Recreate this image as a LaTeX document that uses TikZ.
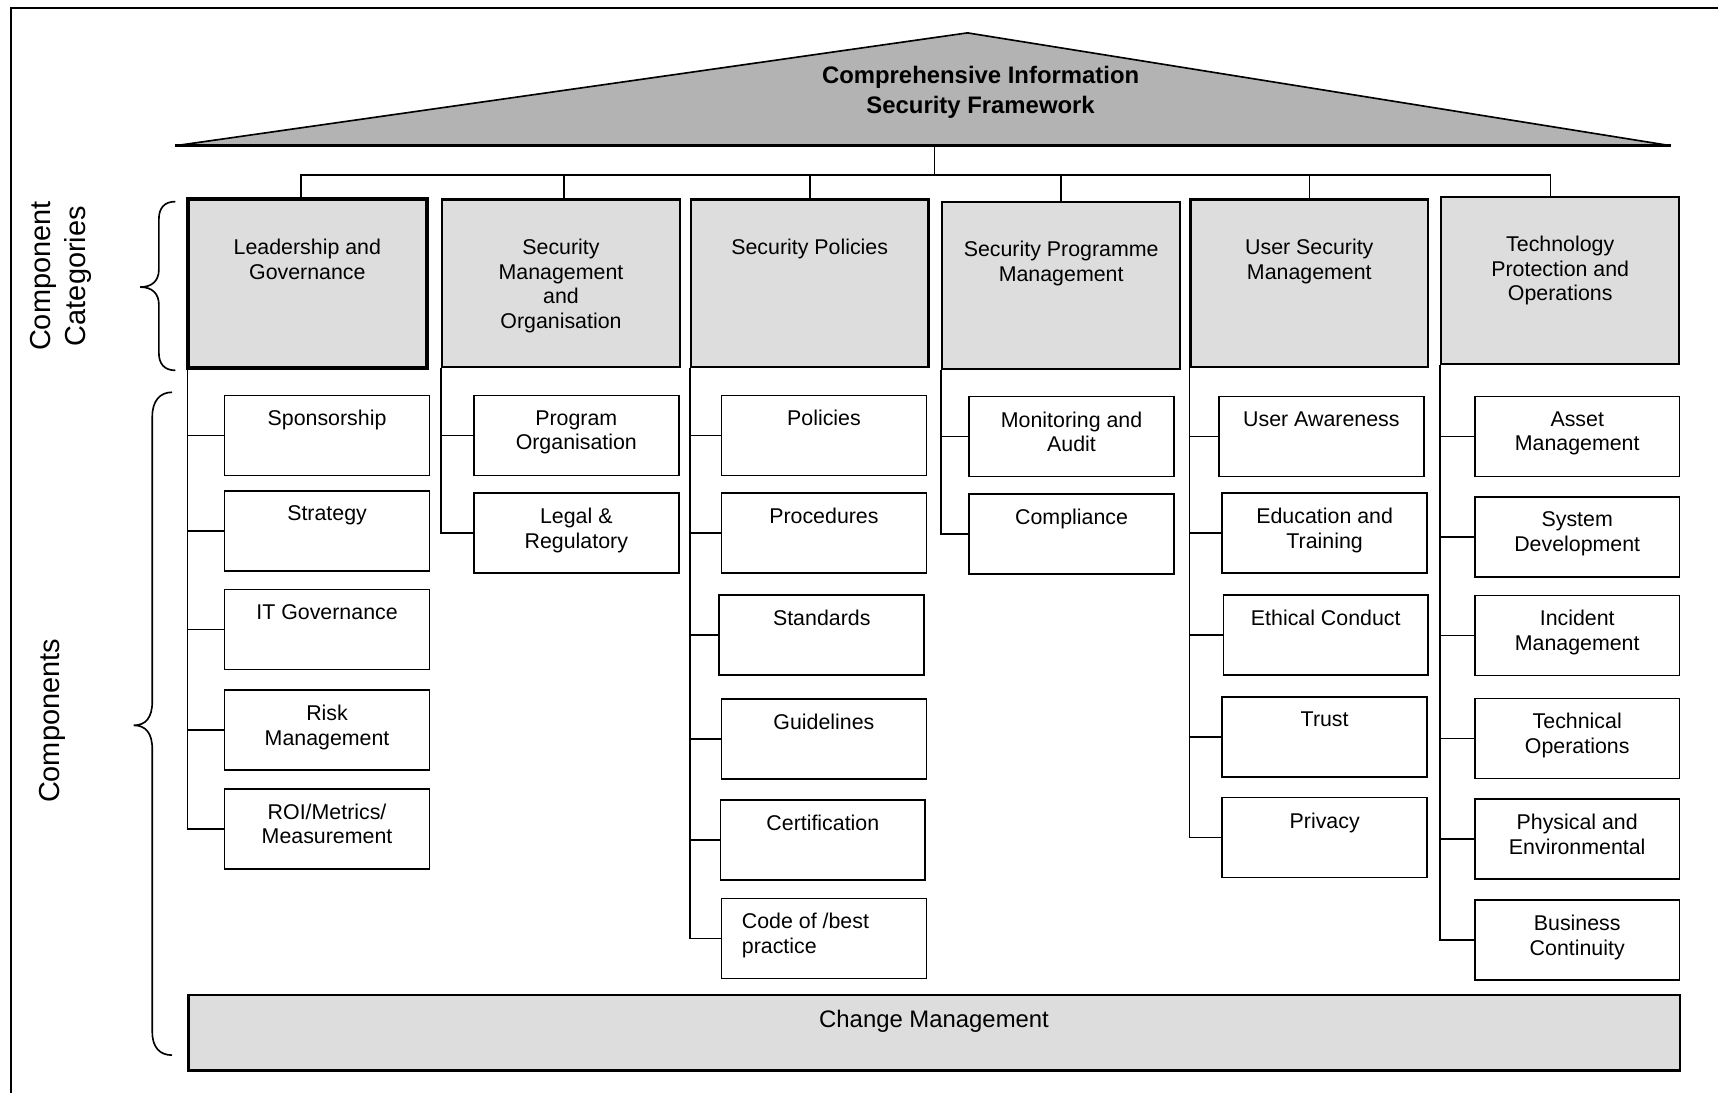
\documentclass[tikz,border=0pt]{standalone}
\usepackage{fontspec}
\setmainfont{Liberation Sans}
\definecolor{roofgray}{HTML}{B3B3B3}
\definecolor{catgray}{HTML}{DDDDDD}
\newcommand\cbx[4]{%
  \node[comp] (#1) at (#2,#3) {};
  \node[lbl] (#1t) at ([yshift=-7pt]#1.north) {#4};}
\newcommand\ctx[4]{%
  \node[cat] (#1) at (#2,#3) {};
  \node[lbl] (#1t) at ([yshift=-18.3pt]#1.north) {#4};}
\begin{document}
\begin{tikzpicture}[x=0.5pt,y=-0.5pt,
  every node/.style={font=\fontsize{9.75}{11.25}\selectfont},
  comp/.style={draw, line width=0.75pt, minimum width=93.5pt, minimum height=36.5pt, inner sep=0pt},
  cat/.style={draw, line width=1pt, fill=catgray, minimum width=108.5pt, minimum height=76.5pt, inner sep=0pt},
  lbl/.style={anchor=north, align=center, inner sep=0pt},
  conn/.style={line width=0.75pt},
  brc/.style={line width=0.75pt}]
\useasboundingbox (0,0) rectangle (1568,998);
% outer frame (only top and left edges visible)
\coordinate (fTL) at (10,7);
\coordinate (fTR) at (1568,7);
\coordinate (fBL) at (10,998);
\draw[line width=1pt] (fBL) -- (fTL) -- (fTR);
% roof
\coordinate (roofL) at (160,133);
\coordinate (roofT) at (883,30);
\coordinate (roofR) at (1525,133);
\coordinate (roofB) at (853,133);
\draw[line width=0.75pt, fill=roofgray] (roofL) -- (roofT) -- (roofR) -- cycle;
\draw[line width=1.2pt] (roofL) -- (roofR);
\node[align=center, inner sep=0pt, font=\fontsize{10.9}{13.5}\selectfont\bfseries] (title) at (895,84.5) {Comprehensive Information\\Security Framework};
% categories
\ctx{c1}{280.5}{258.5}{Leadership and\\Governance}
\ctx{c2}{512}{258.5}{Security\\Management\\and\\Organisation}
\ctx{c3}{739}{258.5}{Security Policies}
\ctx{c4}{968.5}{260.5}{Security Programme\\Management}
\ctx{c5}{1195}{258.5}{User Security\\Management}
\ctx{c6}{1424}{256}{Technology\\Protection and\\Operations}
\draw[line width=1.25pt] (c1.north west) rectangle (c1.south east);
% bus
\coordinate (bus) at (853,160);
\draw[conn] (roofB) -- (bus);
\draw[conn] ([xshift=-2.75pt]c1.north) |- (bus);
\draw[conn] ([xshift=1.5pt]c2.north) |- (bus);
\draw[conn] (c3.north) |- (bus);
\draw[conn] (c4.north) |- (bus);
\draw[conn] (c5.north) |- (bus);
\draw[conn] ([xshift=-4.5pt]c6.north) |- (bus);
% components col 1
\cbx{s1}{298.5}{397.5}{Sponsorship}
\cbx{s2}{298.5}{484.5}{Strategy}
\cbx{s3}{298.5}{574.5}{IT Governance}
\cbx{s4}{298.5}{666.5}{Risk\\Management}
\cbx{s5}{298.5}{756.5}{ROI/Metrics/\\Measurement}
% col 2
\cbx{m1}{526}{397.5}{Program\\Organisation}
\cbx{m2}{526}{486.5}{Legal \&\\Regulatory}
% col 3
\cbx{p1}{752}{397.5}{Policies}
\cbx{p2}{752}{486.5}{Procedures}
\cbx{p3}{750}{579.5}{Standards}
\cbx{p4}{752}{674.5}{Guidelines}
\cbx{p5}{751}{766.5}{Certification}
\node[comp] (p6) at (752,856.5) {};
\node[anchor=north west, align=left, inner sep=0pt] (p6t) at ([xshift=9.5pt,yshift=-7pt]p6.north west) {Code of /best\\practice};
% col 4
\cbx{g1}{978}{398.5}{Monitoring and\\Audit}
\cbx{g2}{978}{487.5}{Compliance}
% col 5
\cbx{u1}{1206}{398.5}{User Awareness}
\cbx{u2}{1209}{486.5}{Education and\\Training}
\cbx{u3}{1210}{579.5}{Ethical Conduct}
\cbx{u4}{1209}{672.5}{Trust}
\cbx{u5}{1209}{764.5}{Privacy}
% col 6
\cbx{t1}{1439.5}{398.5}{Asset\\Management}
\cbx{t2}{1439.5}{490}{System\\Development}
\cbx{t3}{1439.5}{580}{Incident\\Management}
\cbx{t4}{1439.5}{674}{Technical\\Operations}
\cbx{t5}{1439.5}{766}{Physical and\\Environmental}
\cbx{t6}{1439.5}{858}{Business\\Continuity}
% connectors
\foreach \b in {s1,s2,s3,s4,s5} { \draw[conn] (c1.south west) |- (\b.west); }
\foreach \b in {m1,m2} { \draw[conn] (c2.south west) |- (\b.west); }
\foreach \b in {p1,p2,p3,p4,p5,p6} { \draw[conn] (c3.south west) |- (\b.west); }
\foreach \b in {g1,g2} { \draw[conn] (c4.south west) |- (\b.west); }
\foreach \b in {u1,u2,u3,u4,u5} { \draw[conn] (c5.south west) |- (\b.west); }
\foreach \b in {t1,t2,t3,t4,t5,t6} { \draw[conn] (c6.south west) |- (\b.west); }
% change management
\node[draw, line width=1pt, fill=catgray, minimum width=680.5pt, minimum height=34.5pt, inner sep=0pt] (chg) at (852.5,942.5) {};
\node[lbl, font=\fontsize{10.9}{12.5}\selectfont] (chgt) at ([yshift=-7.5pt]chg.north) {Change Management};
% braces
\draw[brc] (160,184) .. controls (150,184) and (145,190) .. (145,200) -- (145,246)
  .. controls (145,256) and (139,262) .. (128,262)
  .. controls (139,262) and (145,268) .. (145,278) -- (145,322)
  .. controls (145,332) and (150,338) .. (160,338);
\draw[brc] (157,358) .. controls (146,358) and (139,366) .. (139,380) -- (139,640)
  .. controls (139,655) and (133,662) .. (122,662)
  .. controls (133,662) and (139,669) .. (139,684) -- (139,942)
  .. controls (139,956) and (146,963) .. (157,963);
\node[rotate=90, align=center, inner sep=0pt, font=\fontsize{13.2}{16}\selectfont] (lcat) at (56,252) {Component\\Categories};
\node[rotate=90, inner sep=0pt, font=\fontsize{13.2}{16}\selectfont] (lcomp) at (48,658) {Components};
\end{tikzpicture}
\end{document}
